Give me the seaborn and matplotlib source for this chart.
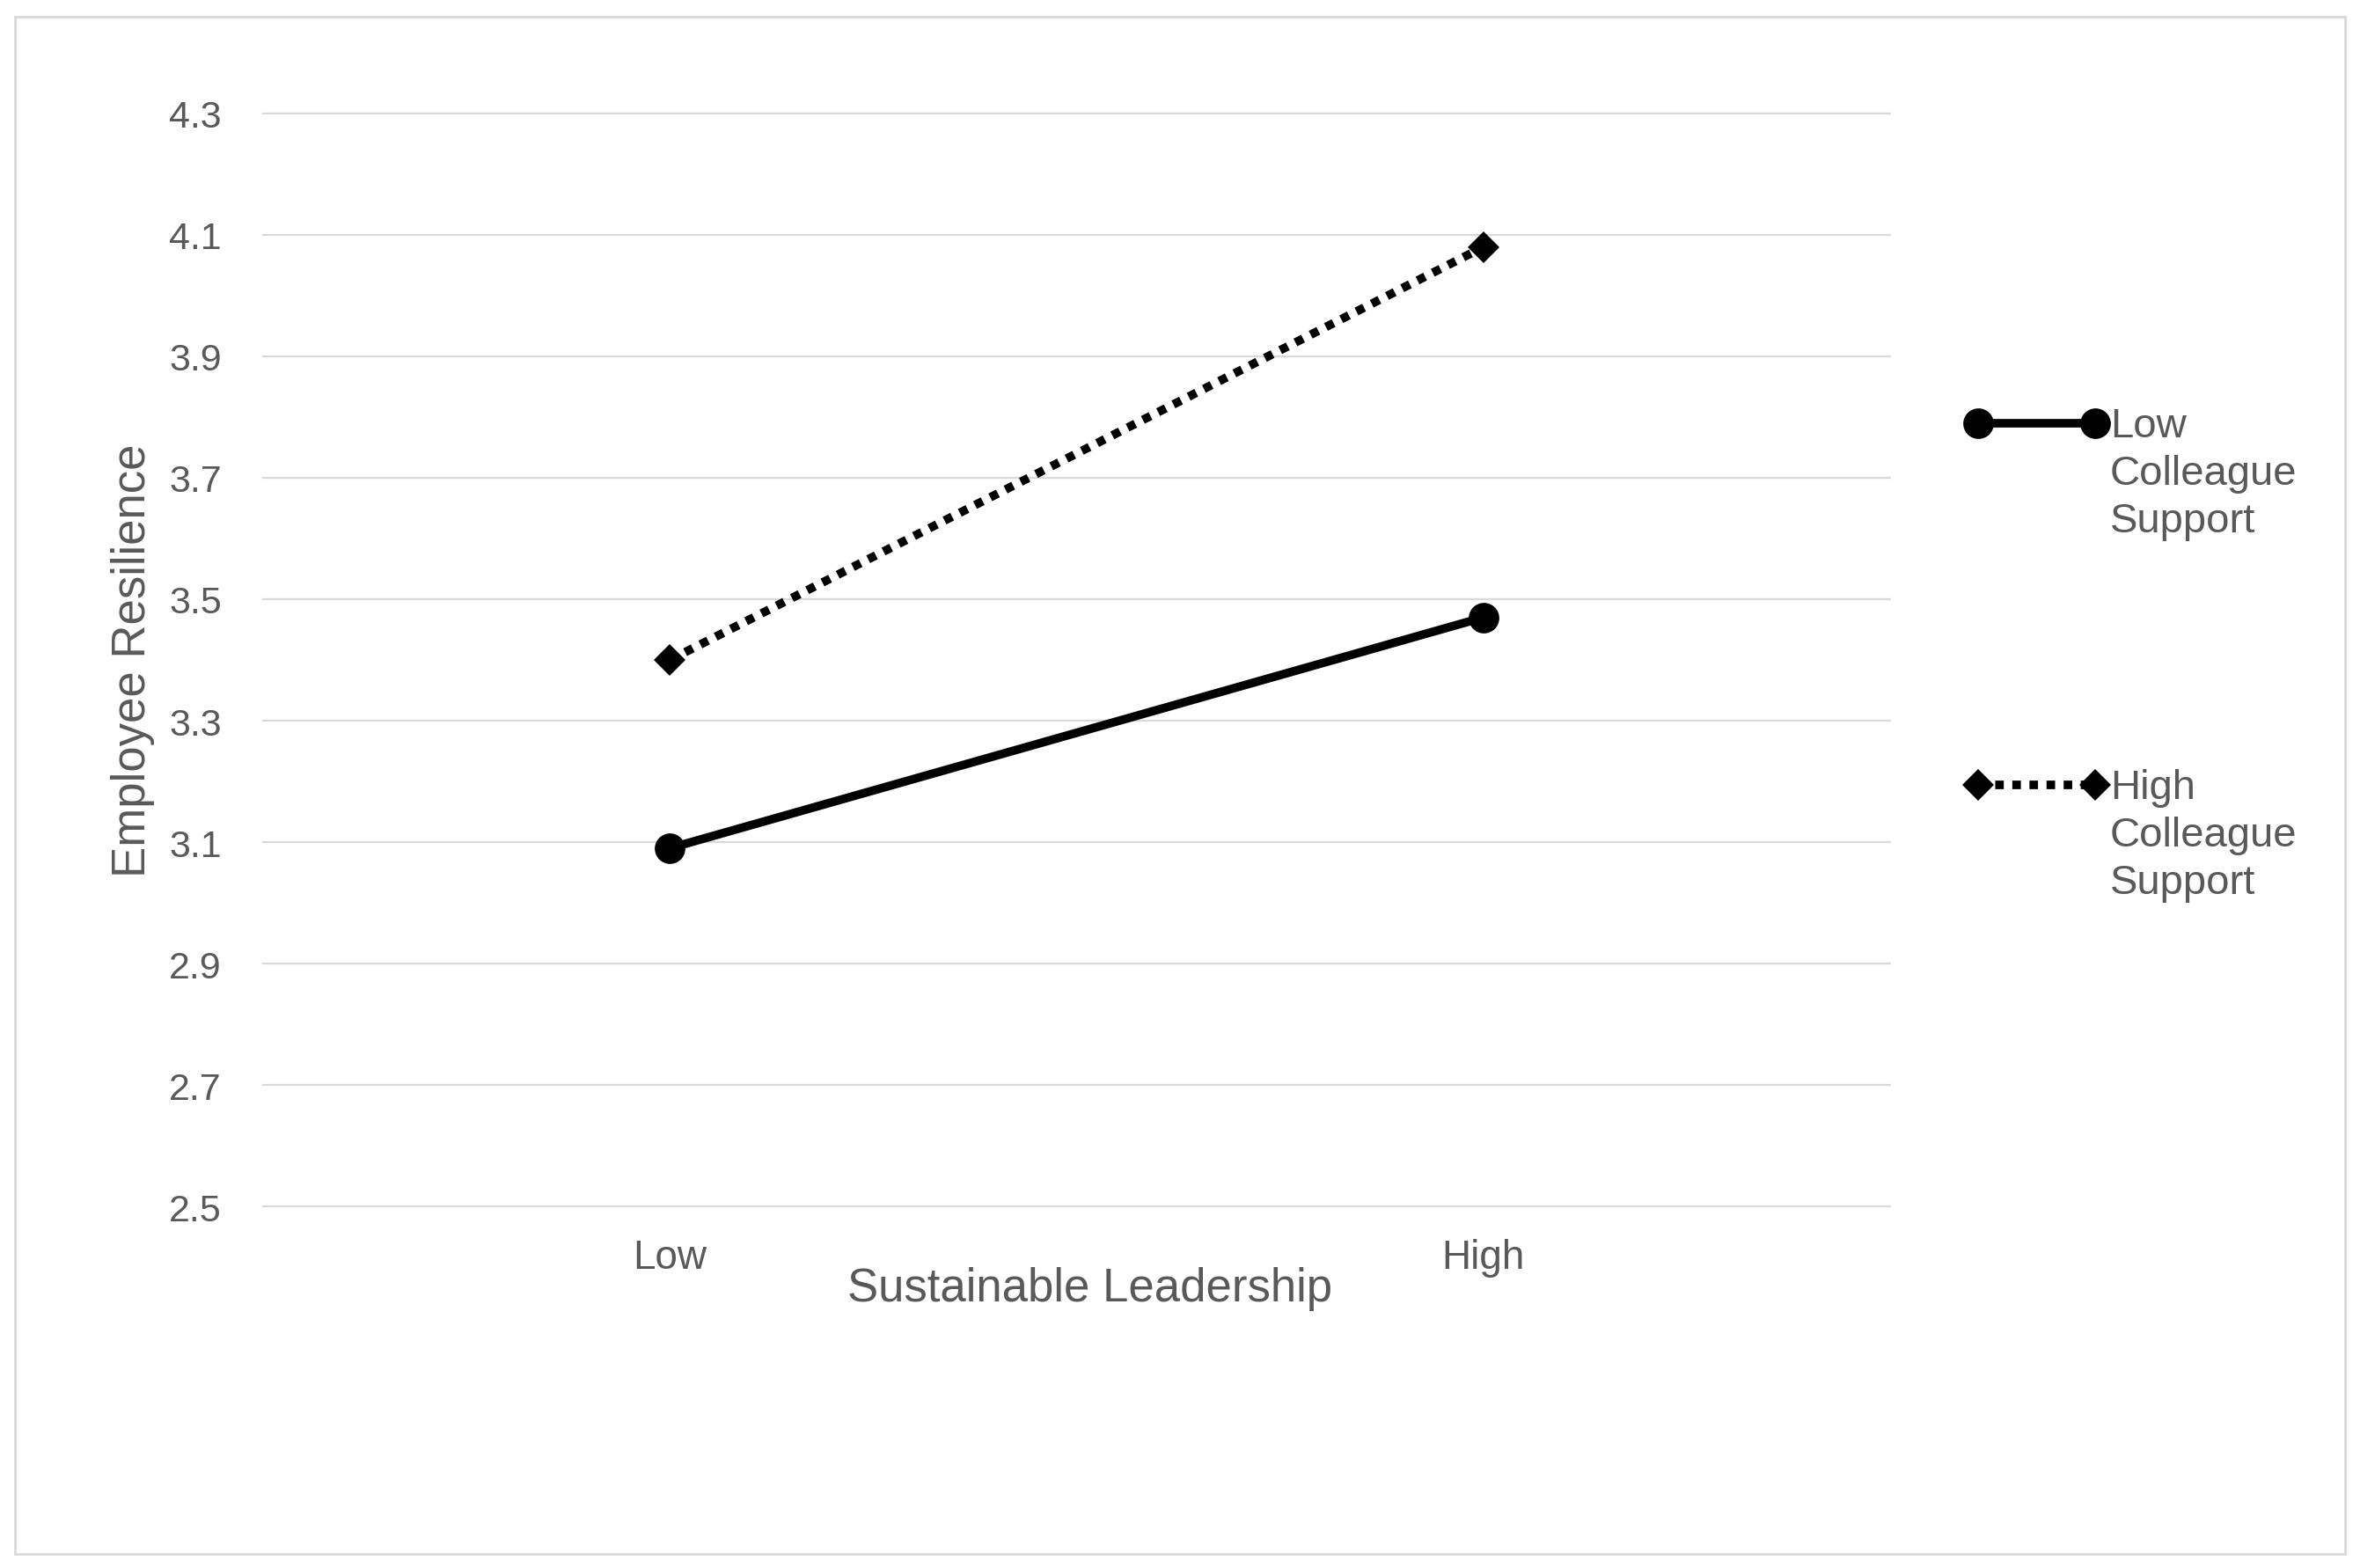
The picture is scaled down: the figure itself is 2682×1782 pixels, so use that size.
import matplotlib
matplotlib.use("Agg")
import matplotlib.pyplot as plt
import seaborn as sns
import pandas as pd
from matplotlib.lines import Line2D
from matplotlib.patches import Rectangle

# ---- data ----
categories = ["Low", "High"]
series_names = ["Low\nColleague\nSupport", "High\nColleague\nSupport"]
low_support = [3.09, 3.47]
high_support = [3.40, 4.08]
y_ticks = [2.5, 2.7, 2.9, 3.1, 3.3, 3.5, 3.7, 3.9, 4.1, 4.3]
x_title = "Sustainable Leadership"
y_title = "Employee Resilience"

df = pd.DataFrame({
    x_title: categories * 2,
    y_title: low_support + high_support,
    "Group": [series_names[0]] * 2 + [series_names[1]] * 2,
})

sns.set_theme(style="white")
plt.rcParams['font.family'] = ['Liberation Sans', 'DejaVu Sans']

GRAY_TXT = "#595959"
GRID = "#D9D9D9"
LW = 7

fig = plt.figure(figsize=(26.82, 17.83), dpi=100)
fig.patch.set_facecolor("white")
ax = fig.add_axes([0.1115, 0.2305, 0.6894, 0.6966])

sns.lineplot(data=df, x=x_title, y=y_title, hue="Group", style="Group",
             palette=["black", "black"], markers=["o", "D"],
             dashes=["", (1, 1)], linewidth=LW, sort=False,
             markeredgecolor="black", markeredgewidth=0, ax=ax)

sizes = [25, 18]
for line, ms in zip(ax.lines[:2], sizes):
    line.set_markersize(ms)
    line.set_dash_capstyle("butt")

if ax.get_legend() is not None:
    ax.get_legend().remove()

ax.set_xlim(-0.5, 1.5)
ax.set_ylim(2.5, 4.3)
ax.set_yticks(y_ticks)
ax.set_yticklabels([f"{v:.1f}" for v in y_ticks])
ax.yaxis.grid(True, color=GRID, linewidth=1.6)
ax.xaxis.grid(False)
for gl in ax.get_ygridlines():
    gl.set_clip_on(False)
for s in ax.spines.values():
    s.set_visible(False)
ax.set_axisbelow(True)

ax.tick_params(axis="y", length=0, pad=34, labelsize=31, labelcolor=GRAY_TXT)
ax.tick_params(axis="x", length=0, pad=26, labelsize=33, labelcolor=GRAY_TXT)

ax.set_xlabel(x_title, fontsize=38, color=GRAY_TXT)
ax.set_ylabel(y_title, fontsize=38, color=GRAY_TXT)
ax.xaxis.set_label_coords(0.508, -0.055)
ax.yaxis.label.set_va("center")
ax.yaxis.set_label_coords(-0.0803, 0.5)

# ---- legend (manual, right side) ----
W, H = 2682, 1783
leg_y = [482, 893]
styles = [("o", 25, "-"), ("D", 18, (0, (1, 1)))]
for name, yy, (mk, ms, ls) in zip(series_names, leg_y, styles):
    yf = 1 - yy / H
    ln = Line2D([2248 / W, 2381 / W], [yf, yf], transform=fig.transFigure,
                color="black", linewidth=LW, linestyle=ls, marker=mk,
                markersize=ms, markeredgewidth=0, dash_capstyle="butt")
    fig.add_artist(ln)
    fig.text(2398 / W, 1 - (yy - 19) / H, name, fontsize=34, color=GRAY_TXT,
             va="top", ha="left", linespacing=1.29)

# ---- outer border ----
fig.patches.append(Rectangle((17 / W, 1 - 1767 / H), (2665 - 17) / W, (1767 - 20) / H,
                             transform=fig.transFigure, fill=False,
                             edgecolor=GRID, linewidth=2))

fig.savefig("out.png", dpi=100, facecolor="white")
